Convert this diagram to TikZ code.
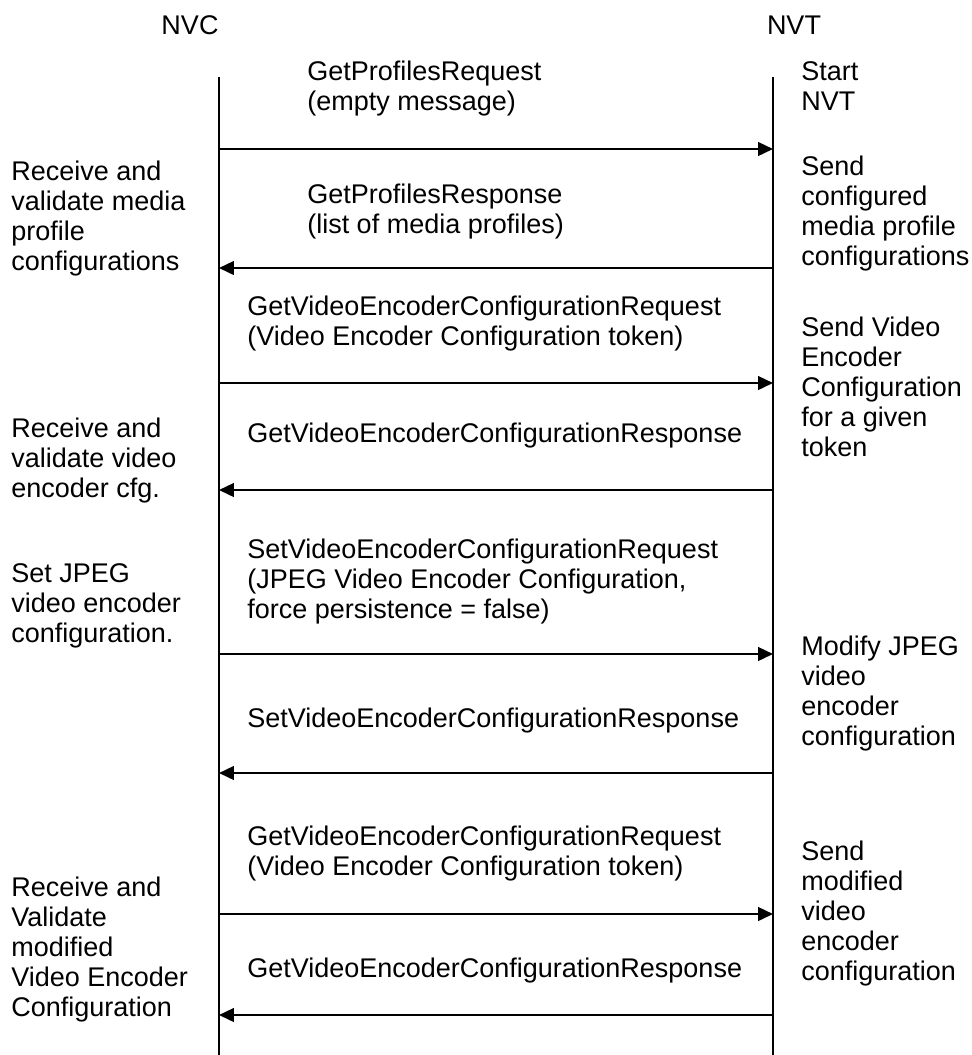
\documentclass[tikz,border=0pt]{standalone}
\usepackage{fontspec}
\setmainfont{Liberation Sans}
\usetikzlibrary{arrows.meta,positioning}
\newcommand{\seqfont}{\fontsize{19.2}{21.3}\selectfont}

\begin{document}
\begin{tikzpicture}[
    x=0.025cm,y=-0.025cm,
    every node/.style={font=\seqfont,inner sep=0pt},
    note/.style={anchor=base west,align=left},
    lifeline/.style={line width=1.5pt},
    msg/.style={-{Triangle[length=0.37cm,width=0.34cm]},line width=1.5pt}
  ]
  \useasboundingbox (0,0) rectangle (972,1055);
  %% Parties and lifelines
  \node[anchor=base] (nvc) at (190,34) {NVC};
  \node[anchor=base] (nvt) at (794,34) {NVT};
  \coordinate (nvcTop) at (219,77);
  \coordinate (nvcEnd) at (219,1055);
  \coordinate (nvtTop) at (773,77);
  \coordinate (nvtEnd) at (773,1055);
  \draw[lifeline] (nvcTop) -- (nvcEnd);
  \draw[lifeline] (nvtTop) -- (nvtEnd);
  %% Message end points
  \foreach \i/\y in {1/149,2/268,3/383,4/490,5/654,6/773,7/914,8/1015}{
    \coordinate (c\i) at (219,\y);
    \coordinate (t\i) at (773,\y);
  }
  %% Messages
  \draw[msg] (c1) -- (t1);
  \draw[msg] (t2) -- (c2);
  \draw[msg] (c3) -- (t3);
  \draw[msg] (t4) -- (c4);
  \draw[msg] (c5) -- (t5);
  \draw[msg] (t6) -- (c6);
  \draw[msg] (c7) -- (t7);
  \draw[msg] (t8) -- (c8);
  %% Message labels (anchored at the last line)
  \node[note] (m1) at (307,110) {GetProfilesRequest\\(empty message)};
  \node[note] (m2) at (307,233) {GetProfilesResponse\\(list of media profiles)};
  \node[note] (m3) at (247,345) {GetVideoEncoderConfigurationRequest\\(Video Encoder Configuration token)};
  \node[note] (m4) at (247,442) {GetVideoEncoderConfigurationResponse};
  \node[note] (m5) at (247,618) {SetVideoEncoderConfigurationRequest\\(JPEG Video Encoder Configuration,\\force persistence = false)};
  \node[note] (m6) at (247,727) {SetVideoEncoderConfigurationResponse};
  \node[note] (m7) at (247,875) {GetVideoEncoderConfigurationRequest\\(Video Encoder Configuration token)};
  \node[note] (m8) at (247,977) {GetVideoEncoderConfigurationResponse};
  %% NVC actions
  \node[note] (l1) at (11,270) {Receive and\\validate media\\profile\\configurations};
  \node[note] (l2) at (11,497) {Receive and\\validate video\\encoder cfg.};
  \node[note] (l3) at (11,642) {Set JPEG\\video encoder\\configuration.};
  \node[note] (l4) at (11,1016) {Receive and\\Validate\\modified\\Video Encoder\\Configuration};
  %% NVT actions
  \node[note] (r1) at (801,110) {Start\\NVT};
  \node[note] (r2) at (801,265) {Send\\configured\\media profile\\configurations};
  \node[note] (r3) at (801,456) {Send Video\\Encoder\\Configuration\\for a given\\token};
  \node[note] (r4) at (801,745) {Modify JPEG\\video\\encoder\\configuration};
  \node[note] (r5) at (801,980) {Send\\modified\\video\\encoder\\configuration};
\end{tikzpicture}
\end{document}
